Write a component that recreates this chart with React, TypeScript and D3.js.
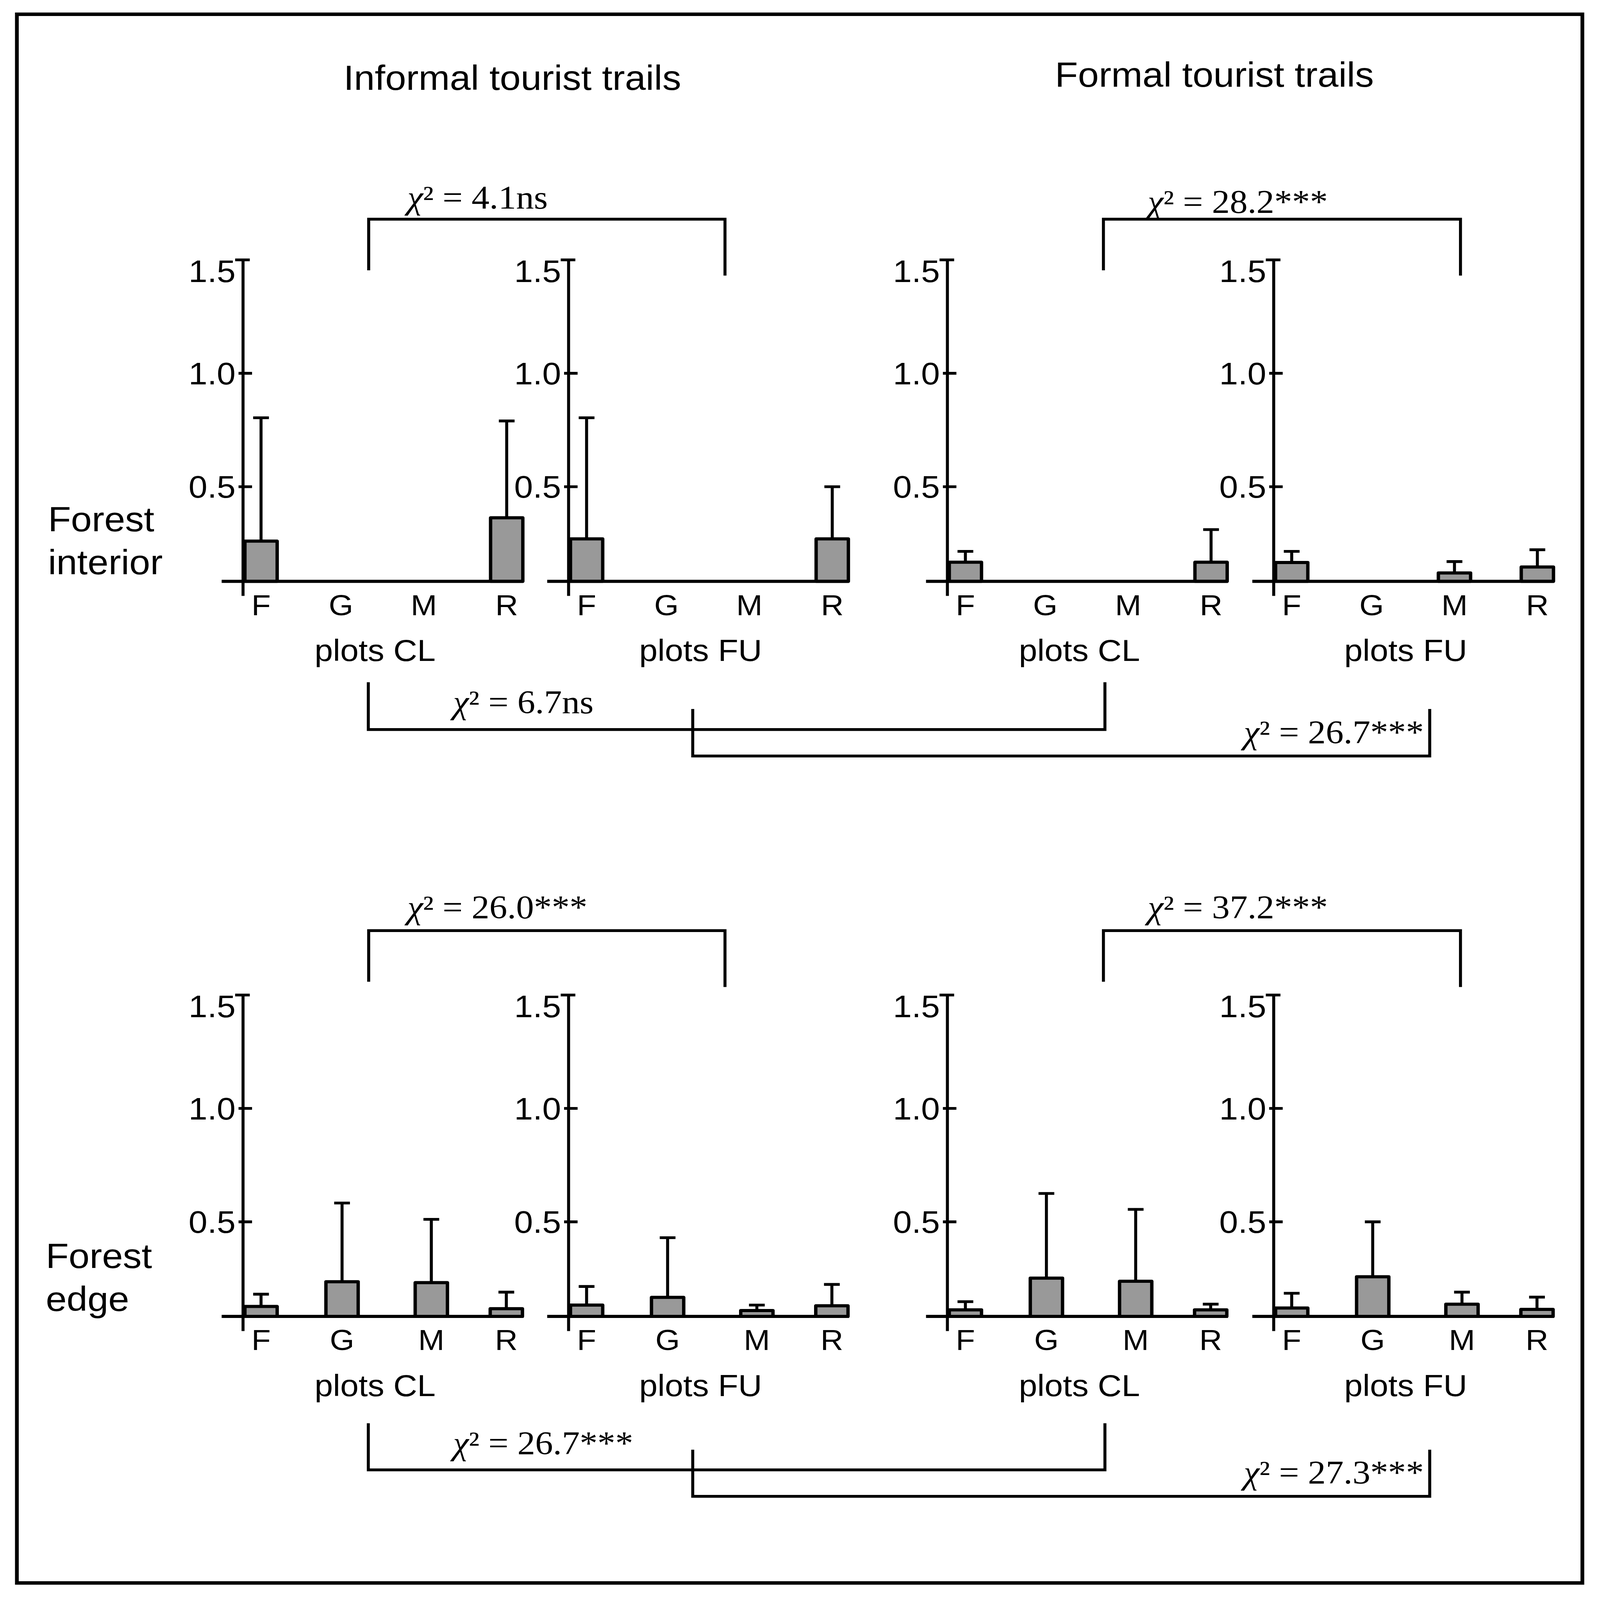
import * as d3 from "d3";

const W = 4266;
const H = 4599;

const categories = ["F", "G", "M", "R"];
const yTicks = [0.5, 1.0, 1.5];
const trailTitles = ["Informal tourist trails", "Formal tourist trails"];
const rowLabels = [["Forest", "interior"], ["Forest", "edge"]];
const plotLabels = ["plots CL", "plots FU", "plots CL", "plots FU"];

// means and SD (F, G, M, R)
const interiorInformalCLMean = [0.26, 0, 0, 0.363];
const interiorInformalCLSd = [0.544, 0, 0, 0.427];
const interiorInformalFUMean = [0.27, 0, 0, 0.27];
const interiorInformalFUSd = [0.534, 0, 0, 0.23];
const interiorFormalCLMean = [0.167, 0, 0, 0.167];
const interiorFormalCLSd = [0.048, 0, 0, 0.144];
const interiorFormalFUMean = [0.166, 0, 0.12, 0.146];
const interiorFormalFUSd = [0.049, 0, 0.05, 0.076];

const edgeInformalCLMean = [0.127, 0.236, 0.232, 0.117];
const edgeInformalCLSd = [0.054, 0.347, 0.279, 0.073];
const edgeInformalFUMean = [0.133, 0.167, 0.109, 0.13];
const edgeInformalFUSd = [0.082, 0.263, 0.024, 0.094];
const edgeFormalCLMean = [0.112, 0.252, 0.238, 0.112];
const edgeFormalCLSd = [0.036, 0.373, 0.317, 0.025];
const edgeFormalFUMean = [0.12, 0.258, 0.137, 0.114];
const edgeFormalFUSd = [0.065, 0.242, 0.053, 0.054];

// chi-square comparisons: [informal CL vs FU, formal CL vs FU] on top,
// [CL informal vs formal, FU informal vs formal] below
const chiTop = [
  ["χ² = 4.1ns", "χ² = 28.2***"],
  ["χ² = 26.0***", "χ² = 37.2***"],
];
const chiBottom = [
  ["χ² = 6.7ns", "χ² = 26.7***"],
  ["χ² = 26.7***", "χ² = 27.3***"],
];

const series = [
  [
    [interiorInformalCLMean, interiorInformalCLSd],
    [interiorInformalFUMean, interiorInformalFUSd],
    [interiorFormalCLMean, interiorFormalCLSd],
    [interiorFormalFUMean, interiorFormalFUSd],
  ],
  [
    [edgeInformalCLMean, edgeInformalCLSd],
    [edgeInformalFUMean, edgeInformalFUSd],
    [edgeFormalCLMean, edgeFormalCLSd],
    [edgeFormalFUMean, edgeFormalFUSd],
  ],
];

// layout
const panelX = [648, 1516, 2526, 3396];
const rows = [
  {
    top: 747,
    catX: [48, 261, 482, 703],
    label: { x: 128, y: [1527, 1650] },
    topBr: { y: 630, legL: 777, legR: 792, text: [600, 612] },
    b1: { y: 2097, leg: 1961, text: 2050 },
    b2: { y: 2173, leg: 2038, text: 2137 },
  },
  {
    top: 2860,
    catX: [48, 264, 502, 702],
    label: { x: 122, y: [3645, 3768] },
    topBr: { y: 2675, legL: 2822, legR: 2837, text: [2640, 2640] },
    b1: { y: 4225, leg: 4091, text: 4180 },
    b2: { y: 4301, leg: 4167, text: 4264 },
  },
];
const topBrX = [
  [983, 1933],
  [2942, 3894],
];
const topTextX = [1086, 3060];
const b1X = [982, 2946];
const b2X = [1847, 3812];
const b1TextX = 1208;
const b2TextX = 3316;

const axisFloor = 0.083; // x axis sits slightly above zero in the original
const sans = "'Liberation Sans', Arial, Helvetica, sans-serif";
const serif = "'Liberation Serif', 'Times New Roman', serif";
const fmt = d3.format(".1f");

const barW = 86;

function Chi({ x, y, label }: { x: number; y: number; label: string }) {
  return (
    <text x={x} y={y} fontFamily={serif} fontSize={95}>
      <tspan fontStyle="italic">{label.slice(0, 1)}</tspan>
      <tspan>{label.slice(1)}</tspan>
    </text>
  );
}

function Panel({ row, col }: { row: number; col: number }) {
  const ax = panelX[col];
  const r = rows[row];
  const y = d3.scaleLinear().domain([0, 1.5]).range([r.top + 978, r.top]);
  const x = d3.scaleOrdinal<string, number>().domain(categories).range(r.catX);
  const base = y(axisFloor);
  const [mean, sd] = series[row][col];
  return (
    <g>
      {/* y axis */}
      <line x1={ax} x2={ax} y1={y(1.5)} y2={base + 42} stroke="#000" strokeWidth={8} />
      {yTicks.map((t) => {
        const top = t === 1.5;
        return (
          <g key={t}>
            <line
              x1={ax - (top ? 21 : 12)}
              x2={ax + (top ? 18 : 24)}
              y1={y(t)}
              y2={y(t)}
              stroke="#000"
              strokeWidth={8}
            />
            <text
              x={ax - 20}
              y={y(t) + (top ? 64 : 32)}
              textAnchor="end"
              fontFamily={sans}
              fontSize={90}
            >
              {fmt(t)}
            </text>
          </g>
        );
      })}
      {/* bars */}
      {categories.map((c, i) => {
        const m = mean[i];
        if (!m) return null;
        const cx = ax + x(c);
        const yt = y(m);
        const ye = y(m + sd[i]);
        return (
          <g key={c}>
            <line x1={cx} x2={cx} y1={yt} y2={ye} stroke="#000" strokeWidth={8} />
            <line x1={cx - 21} x2={cx + 21} y1={ye} y2={ye} stroke="#000" strokeWidth={8} />
            <rect
              x={cx - barW / 2}
              y={yt}
              width={barW}
              height={base - yt}
              fill="#999999"
              stroke="#000"
              strokeWidth={9}
              strokeLinejoin="round"
            />
          </g>
        );
      })}
      {/* x axis */}
      <line x1={ax - 57} x2={ax + 748} y1={base} y2={base} stroke="#000" strokeWidth={9} />
      {categories.map((c) => (
        <text
          key={c}
          x={ax + x(c)}
          y={base + 97}
          textAnchor="middle"
          fontFamily={sans}
          fontSize={84}
        >
          {c}
        </text>
      ))}
      <text x={ax + 352} y={base + 229} textAnchor="middle" fontFamily={sans} fontSize={88}>
        {plotLabels[col]}
      </text>
    </g>
  );
}

function bracketDown(x1: number, x2: number, y: number, legL: number, legR: number) {
  const p = d3.path();
  p.moveTo(x1, legL);
  p.lineTo(x1, y);
  p.lineTo(x2, y);
  p.lineTo(x2, legR);
  return p.toString();
}

export default function App() {
  return (
    <div
      style={{
        position: "fixed",
        left: 0,
        top: 0,
        width: "100vw",
        height: "100vh",
        background: "#fff",
        overflow: "hidden",
      }}
    >
      <svg
        width="100%"
        height="100%"
        viewBox={`0 0 ${W} ${H}`}
        preserveAspectRatio="none"
        style={{ display: "block" }}
      >
        <rect x={0} y={0} width={W} height={H} fill="#fff" />
        <rect x={45} y={41} width={4174} height={4509} fill="none" stroke="#000" strokeWidth={10} />

        <text x={1366} y={258} textAnchor="middle" fontFamily={sans} fontSize={100}>
          {trailTitles[0]}
        </text>
        <text x={3238} y={249} textAnchor="middle" fontFamily={sans} fontSize={100}>
          {trailTitles[1]}
        </text>

        {rows.map((r, ri) => (
          <g key={ri}>
            {rowLabels[ri].map((t, k) => (
              <text key={k} x={r.label.x} y={r.label.y[k]} fontFamily={sans} fontSize={100}>
                {t}
              </text>
            ))}
            {panelX.map((_, ci) => (
              <Panel key={ci} row={ri} col={ci} />
            ))}

            {/* top brackets: CL vs FU within each trail type */}
            {topBrX.map(([x1, x2], k) => (
              <g key={k}>
                <path
                  d={bracketDown(x1, x2, r.topBr.y, r.topBr.legL, r.topBr.legR)}
                  fill="none"
                  stroke="#000"
                  strokeWidth={8}
                />
                <Chi x={topTextX[k]} y={r.topBr.text[k]} label={chiTop[ri][k]} />
              </g>
            ))}

            {/* bottom brackets: informal vs formal */}
            <path
              d={bracketDown(b1X[0], b1X[1], r.b1.y, r.b1.leg, r.b1.leg)}
              fill="none"
              stroke="#000"
              strokeWidth={8}
            />
            <Chi x={b1TextX} y={r.b1.text} label={chiBottom[ri][0]} />
            <path
              d={bracketDown(b2X[0], b2X[1], r.b2.y, r.b2.leg, r.b2.leg)}
              fill="none"
              stroke="#000"
              strokeWidth={8}
            />
            <Chi x={b2TextX} y={r.b2.text} label={chiBottom[ri][1]} />
          </g>
        ))}
      </svg>
    </div>
  );
}
